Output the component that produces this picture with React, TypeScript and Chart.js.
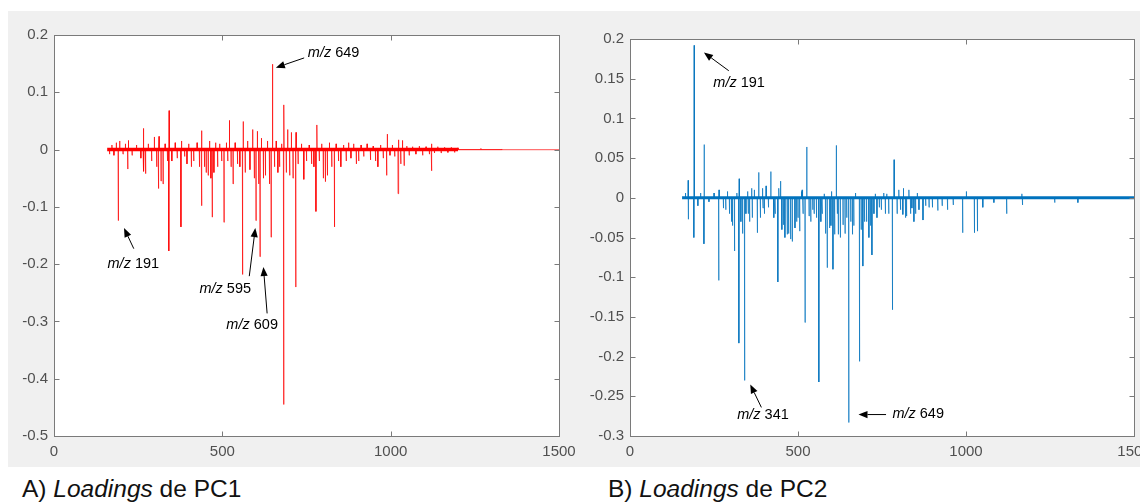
import React, { useEffect, useRef } from "react";
import { Chart, registerables } from "chart.js";
Chart.register(...registerables);

// ---------- data ----------
const xTickValues = [0, 500, 1000, 1500];
const pc1YTicks = [-0.5, -0.4, -0.3, -0.2, -0.1, 0, 0.1, 0.2];
const pc2YTicks = [-0.3, -0.25, -0.2, -0.15, -0.1, -0.05, 0, 0.05, 0.1, 0.15, 0.2];

// PC1 loadings (m/z, loading)
const pc1Mz = [165, 172, 178, 185, 191, 195, 205, 212, 219, 221, 232, 245, 258, 265, 267, 272, 280, 290, 298, 305, 310, 312, 318, 324, 330, 337, 341, 342, 350, 360, 366, 377, 379, 388, 395, 400, 408, 415, 425, 432, 438, 439, 447, 452, 458, 462, 466, 470, 475, 480, 486, 492, 498, 505, 512, 516, 521, 526, 532, 538, 545, 552, 560, 562, 568, 575, 582, 590, 595, 600, 604, 608, 612, 616, 622, 628, 634, 640, 645, 649, 655, 660, 665, 670, 676, 682, 683, 690, 694, 700, 705, 710, 718, 719, 725, 735, 742, 750, 758, 765, 772, 778, 781, 788, 795, 800, 806, 812, 818, 825, 833, 838, 845, 852, 860, 868, 875, 882, 890, 898, 905, 912, 920, 930, 940, 948, 955, 962, 970, 978, 988, 990, 998, 1005, 1012, 1022, 1024, 1030, 1035, 1040, 1048, 1055, 1065, 1075, 1085, 1095, 1105, 1115, 1121, 1122, 1130, 1140, 1150, 1160, 1170, 1180, 1190, 1200, 1268, 1330];
const pc1Loading = [-0.008, 0.008, -0.01, 0.012, -0.124, 0.015, -0.008, 0.01, -0.034, 0.016, -0.01, 0.008, -0.015, 0.037, -0.038, -0.042, 0.01, -0.02, 0.022, -0.03, -0.068, 0.023, -0.055, -0.06, 0.01, -0.02, -0.177, 0.068, -0.02, 0.012, -0.015, -0.135, 0.015, -0.012, -0.025, 0.01, -0.03, -0.02, 0.012, -0.03, -0.098, 0.033, -0.03, -0.04, -0.045, 0.015, -0.05, -0.118, -0.04, 0.012, -0.03, 0.01, -0.02, -0.127, 0.012, -0.02, 0.051, -0.03, -0.06, 0.012, -0.025, -0.03, -0.218, 0.049, -0.04, 0.015, -0.035, 0.035, -0.05, -0.124, 0.032, -0.06, -0.187, 0.02, -0.05, -0.045, 0.015, -0.06, -0.153, 0.149, -0.03, 0.015, -0.04, -0.03, 0.01, -0.445, 0.078, -0.04, 0.035, -0.045, 0.03, -0.05, -0.24, 0.03, -0.025, 0.01, -0.052, -0.02, 0.008, -0.025, -0.03, -0.108, 0.043, -0.02, 0.01, -0.05, -0.056, -0.045, 0.012, -0.03, -0.135, 0.01, -0.02, -0.03, 0.008, -0.02, 0.012, -0.015, 0.01, -0.025, -0.02, 0.008, -0.012, 0.01, -0.018, 0.006, -0.02, -0.03, 0.008, -0.015, -0.045, 0.027, -0.01, 0.008, -0.012, -0.077, 0.017, -0.025, 0.016, -0.028, 0.006, -0.01, 0.005, -0.008, 0.006, -0.01, 0.005, -0.008, -0.037, 0.01, -0.006, 0.005, -0.006, 0.004, -0.005, 0.004, -0.005, 0.003, 0.002, 0.001];
const pc1DenseRange = [158, 1200];
const pc1TailRange = [1200, 1500];

// PC2 loadings (m/z, loading)
const pc2Mz = [165, 173, 174, 190, 191, 202, 210, 220, 221, 235, 250, 264, 265, 278, 285, 290, 296, 302, 305, 311, 318, 324, 325, 330, 335, 341, 345, 350, 352, 356, 362, 364, 370, 379, 383, 388, 394, 396, 400, 405, 412, 419, 428, 432, 440, 443, 448, 452, 457, 461, 468, 472, 478, 483, 491, 496, 500, 505, 510, 512, 515, 521, 526, 533, 538, 544, 548, 555, 562, 568, 572, 578, 582, 587, 594, 598, 600, 604, 609, 614, 617, 620, 626, 634, 640, 645, 651, 657, 662, 666, 671, 683, 688, 693, 698, 704, 711, 716, 720, 726, 730, 735, 742, 748, 755, 760, 764, 770, 781, 786, 795, 800, 805, 812, 814, 820, 823, 830, 835, 839, 845, 850, 855, 860, 872, 880, 890, 900, 916, 929, 945, 962, 990, 1001, 1025, 1034, 1050, 1083, 1121, 1166, 1168, 1264, 1333];
const pc2Loading = [0.006, 0.022, -0.027, -0.05, 0.192, -0.01, 0.006, -0.058, 0.067, -0.005, 0.006, -0.104, 0.01, -0.013, -0.015, 0.008, -0.02, -0.03, -0.035, -0.067, 0.006, -0.183, 0.024, -0.03, -0.045, -0.23, -0.02, 0.008, -0.02, -0.03, 0.012, -0.025, 0.01, -0.044, 0.032, -0.025, 0.012, -0.013, -0.02, 0.015, -0.012, 0.033, -0.025, -0.02, -0.106, 0.012, 0.021, -0.04, -0.034, -0.05, -0.046, -0.045, -0.052, -0.055, -0.038, -0.03, -0.025, -0.042, 0.008, 0.01, -0.02, -0.157, 0.064, -0.023, -0.03, -0.015, -0.02, -0.025, -0.232, -0.03, -0.02, 0.005, -0.045, -0.088, -0.038, -0.035, 0.008, -0.09, -0.046, 0.066, -0.02, -0.046, -0.05, -0.034, -0.045, -0.025, -0.283, -0.03, -0.046, -0.035, 0.006, -0.206, -0.04, -0.086, -0.03, -0.03, -0.05, -0.035, -0.072, -0.02, 0.005, -0.025, -0.012, -0.015, 0.006, -0.02, 0.005, -0.02, -0.141, 0.048, -0.02, 0.01, -0.015, -0.021, 0.012, -0.025, -0.023, 0.01, -0.02, -0.013, -0.03, -0.02, 0.006, -0.015, -0.028, -0.01, -0.012, -0.012, -0.016, -0.01, -0.015, -0.009, -0.044, 0.008, -0.044, -0.042, -0.012, -0.006, -0.02, 0.005, -0.009, -0.006, -0.006];
const pc2DenseRange = [155, 1500];

// annotations: label, arrow tip (m/z, loading), arrow tail, text anchor
const pc1Notes = [
  { label: "649", tip: [659, 0.143], tail: [743, 0.16], text: [754, 0.169] },
  { label: "191", tip: [208, -0.137], tail: [237, -0.173], text: [159, -0.199] },
  { label: "595", tip: [598, -0.137], tail: [580, -0.221], text: [432, -0.244] },
  { label: "609", tip: [622, -0.205], tail: [633, -0.286], text: [512, -0.306] },
];
const pc2Notes = [
  { label: "191", tip: [220, 0.183], tail: [294, 0.16], text: [248, 0.144] },
  { label: "341", tip: [358, -0.235], tail: [391, -0.264], text: [319, -0.273] },
  { label: "649", tip: [680, -0.273], tail: [762, -0.273], text: [781, -0.272] },
];

const captionA = ["A) ", "Loadings", " de PC1"];
const captionB = ["B) ", "Loadings", " de PC2"];

// ---------- helpers ----------
const FONT = '"Liberation Sans", Arial, sans-serif';

function stems(mz: number[], val: number[]) {
  const idx = mz.map((_, i) => i).sort((a, b) => mz[a] - mz[b]);
  const pts: { x: number; y: number }[] = [];
  idx.forEach((i) => {
    pts.push({ x: mz[i] - 0.6, y: 0 });
    pts.push({ x: mz[i], y: val[i] });
    pts.push({ x: mz[i] + 0.6, y: 0 });
  });
  return pts;
}

function makeBoxPlugin(notes: typeof pc1Notes) {
  return {
    id: "boxAndNotes",
    beforeDatasetsDraw(chart: any) {
      const { ctx, chartArea: a } = chart;
      ctx.save();
      ctx.fillStyle = "#ffffff";
      ctx.fillRect(a.left, a.top, a.right - a.left, a.bottom - a.top);
      ctx.restore();
    },
    afterDraw(chart: any) {
      const { ctx, chartArea: a, scales } = chart;
      const xs = scales.x;
      const ys = scales.y;
      ctx.save();
      // annotations
      ctx.strokeStyle = "#000";
      ctx.fillStyle = "#000";
      ctx.lineWidth = 1;
      notes.forEach((n) => {
        const tx = xs.getPixelForValue(n.tip[0]);
        const ty = ys.getPixelForValue(n.tip[1]);
        const sx = xs.getPixelForValue(n.tail[0]);
        const sy = ys.getPixelForValue(n.tail[1]);
        const ang = Math.atan2(ty - sy, tx - sx);
        const hl = 9;
        const hw = 3.6;
        const bx = tx - hl * Math.cos(ang);
        const by = ty - hl * Math.sin(ang);
        ctx.beginPath();
        ctx.moveTo(sx, sy);
        ctx.lineTo(bx, by);
        ctx.stroke();
        ctx.beginPath();
        ctx.moveTo(tx, ty);
        ctx.lineTo(bx + hw * Math.sin(ang), by - hw * Math.cos(ang));
        ctx.lineTo(bx - hw * Math.sin(ang), by + hw * Math.cos(ang));
        ctx.closePath();
        ctx.fill();
        const px = xs.getPixelForValue(n.text[0]);
        const py = ys.getPixelForValue(n.text[1]);
        ctx.textBaseline = "middle";
        ctx.textAlign = "left";
        ctx.font = "italic 14.5px " + FONT;
        ctx.fillText("m/z", px, py);
        const w = ctx.measureText("m/z").width;
        ctx.font = "14.5px " + FONT;
        ctx.fillText(" " + n.label, px + w, py);
      });
      // box
      ctx.strokeStyle = "#7a7a7a";
      ctx.lineWidth = 1;
      const L = Math.round(a.left) + 0.5;
      const R = Math.round(a.right) + 0.5;
      const T = Math.round(a.top) + 0.5;
      const B = Math.round(a.bottom) + 0.5;
      ctx.strokeRect(L, T, R - L, B - T);
      const tl = 5;
      ctx.beginPath();
      xs.ticks.forEach((t: any) => {
        const p = Math.round(xs.getPixelForValue(t.value)) + 0.5;
        ctx.moveTo(p, B);
        ctx.lineTo(p, B - tl);
        ctx.moveTo(p, T);
        ctx.lineTo(p, T + tl);
      });
      ys.ticks.forEach((t: any) => {
        const p = Math.round(ys.getPixelForValue(t.value)) + 0.5;
        ctx.moveTo(L, p);
        ctx.lineTo(L + tl, p);
        ctx.moveTo(R, p);
        ctx.lineTo(R - tl, p);
      });
      ctx.stroke();
      ctx.restore();
    },
  };
}

type PanelProps = {
  width: number;
  height: number;
  pad: { top: number; right: number; left: number; bottom: number };
  yWidth: number;
  xHeight: number;
  yTicks: number[];
  datasets: any[];
  notes: typeof pc1Notes;
};

function Panel(p: PanelProps) {
  const ref = useRef<HTMLCanvasElement>(null);
  useEffect(() => {
    if (!ref.current) return;
    const tickFont = { family: FONT, size: 15 };
    const chart = new Chart(ref.current, {
      type: "line",
      data: { datasets: p.datasets },
      options: {
        animation: false,
        responsive: false,
        devicePixelRatio: 1,
        layout: { padding: p.pad },
        elements: { point: { radius: 0 }, line: { tension: 0 } },
        plugins: { legend: { display: false }, tooltip: { enabled: false } },
        scales: {
          x: {
            type: "linear",
            min: xTickValues[0],
            max: xTickValues[xTickValues.length - 1],
            grid: { display: false, drawTicks: false },
            border: { display: false },
            afterBuildTicks: (s: any) => {
              s.ticks = xTickValues.map((v) => ({ value: v }));
            },
            afterFit: (s: any) => {
              s.height = p.xHeight;
              s.paddingLeft = 0;
              s.paddingRight = 0;
            },
            ticks: {
              color: "#505050",
              font: tickFont,
              padding: 7,
              maxRotation: 0,
              callback: (v: any) => String(v),
            },
          },
          y: {
            type: "linear",
            min: p.yTicks[0],
            max: p.yTicks[p.yTicks.length - 1],
            grid: { display: false, drawTicks: false },
            border: { display: false },
            afterBuildTicks: (s: any) => {
              s.ticks = p.yTicks.map((v) => ({ value: v }));
            },
            afterFit: (s: any) => {
              s.width = p.yWidth;
              s.paddingTop = 0;
              s.paddingBottom = 0;
            },
            ticks: {
              color: "#505050",
              font: tickFont,
              padding: 6,
              callback: (v: any) => String(Number(Number(v).toFixed(3))),
            },
          },
        },
      },
      plugins: [makeBoxPlugin(p.notes)],
    } as any);
    return () => chart.destroy();
  }, []);
  return (
    <canvas
      ref={ref}
      width={p.width}
      height={p.height}
      style={{ width: p.width, height: p.height, display: "block" }}
    />
  );
}

const RED = "#ff0000";
const BLUE = "#0072bd";

export default function App() {
  const pc1Datasets = [
    {
      data: [
        { x: pc1DenseRange[0], y: 0 },
        { x: pc1DenseRange[1], y: 0 },
      ],
      borderColor: RED,
      borderWidth: 3.5,
    },
    {
      data: [
        { x: pc1TailRange[0], y: 0 },
        { x: pc1TailRange[1], y: 0 },
      ],
      borderColor: "rgba(255,0,0,0.55)",
      borderWidth: 1.2,
    },
    {
      data: stems(pc1Mz, pc1Loading),
      borderColor: "rgba(255,0,0,0.7)",
      borderWidth: 1,
    },
  ];
  const pc2Datasets = [
    {
      data: [
        { x: pc2DenseRange[0], y: 0 },
        { x: pc2DenseRange[1], y: 0 },
      ],
      borderColor: BLUE,
      borderWidth: 3,
    },
    {
      data: stems(pc2Mz, pc2Loading),
      borderColor: "rgba(0,114,189,0.7)",
      borderWidth: 1,
    },
  ];

  const capStyle = (left: number): React.CSSProperties => ({
    position: "absolute",
    left,
    top: 469,
    fontFamily: FONT,
    fontSize: 24.5,
    lineHeight: "24.5px",
    color: "#111",
    whiteSpace: "nowrap",
  });

  return (
    <div style={{ position: "relative", width: 1140, height: 496, overflow: "hidden" }}>
      <div style={{ position: "absolute", left: 0, top: 3, width: 1140, height: 456, background: "#f0f0f0" }} />
      <div style={{ position: "absolute", left: 0, top: 3 }}>
        <Panel
          width={572}
          height={456}
          pad={{ top: 24, right: 21, left: 0, bottom: 0 }}
          yWidth={46}
          xHeight={31}
          yTicks={pc1YTicks}
          datasets={pc1Datasets}
          notes={pc1Notes}
        />
      </div>
      <div style={{ position: "absolute", left: 572, top: 3 }}>
        <Panel
          width={568}
          height={456}
          pad={{ top: 28, right: 14, left: 0, bottom: 0 }}
          yWidth={50}
          xHeight={31}
          yTicks={pc2YTicks}
          datasets={pc2Datasets}
          notes={pc2Notes}
        />
      </div>
      <div style={capStyle(14)}>
        {captionA[0]}
        <i>{captionA[1]}</i>
        {captionA[2]}
      </div>
      <div style={capStyle(600)}>
        {captionB[0]}
        <i>{captionB[1]}</i>
        {captionB[2]}
      </div>
    </div>
  );
}
